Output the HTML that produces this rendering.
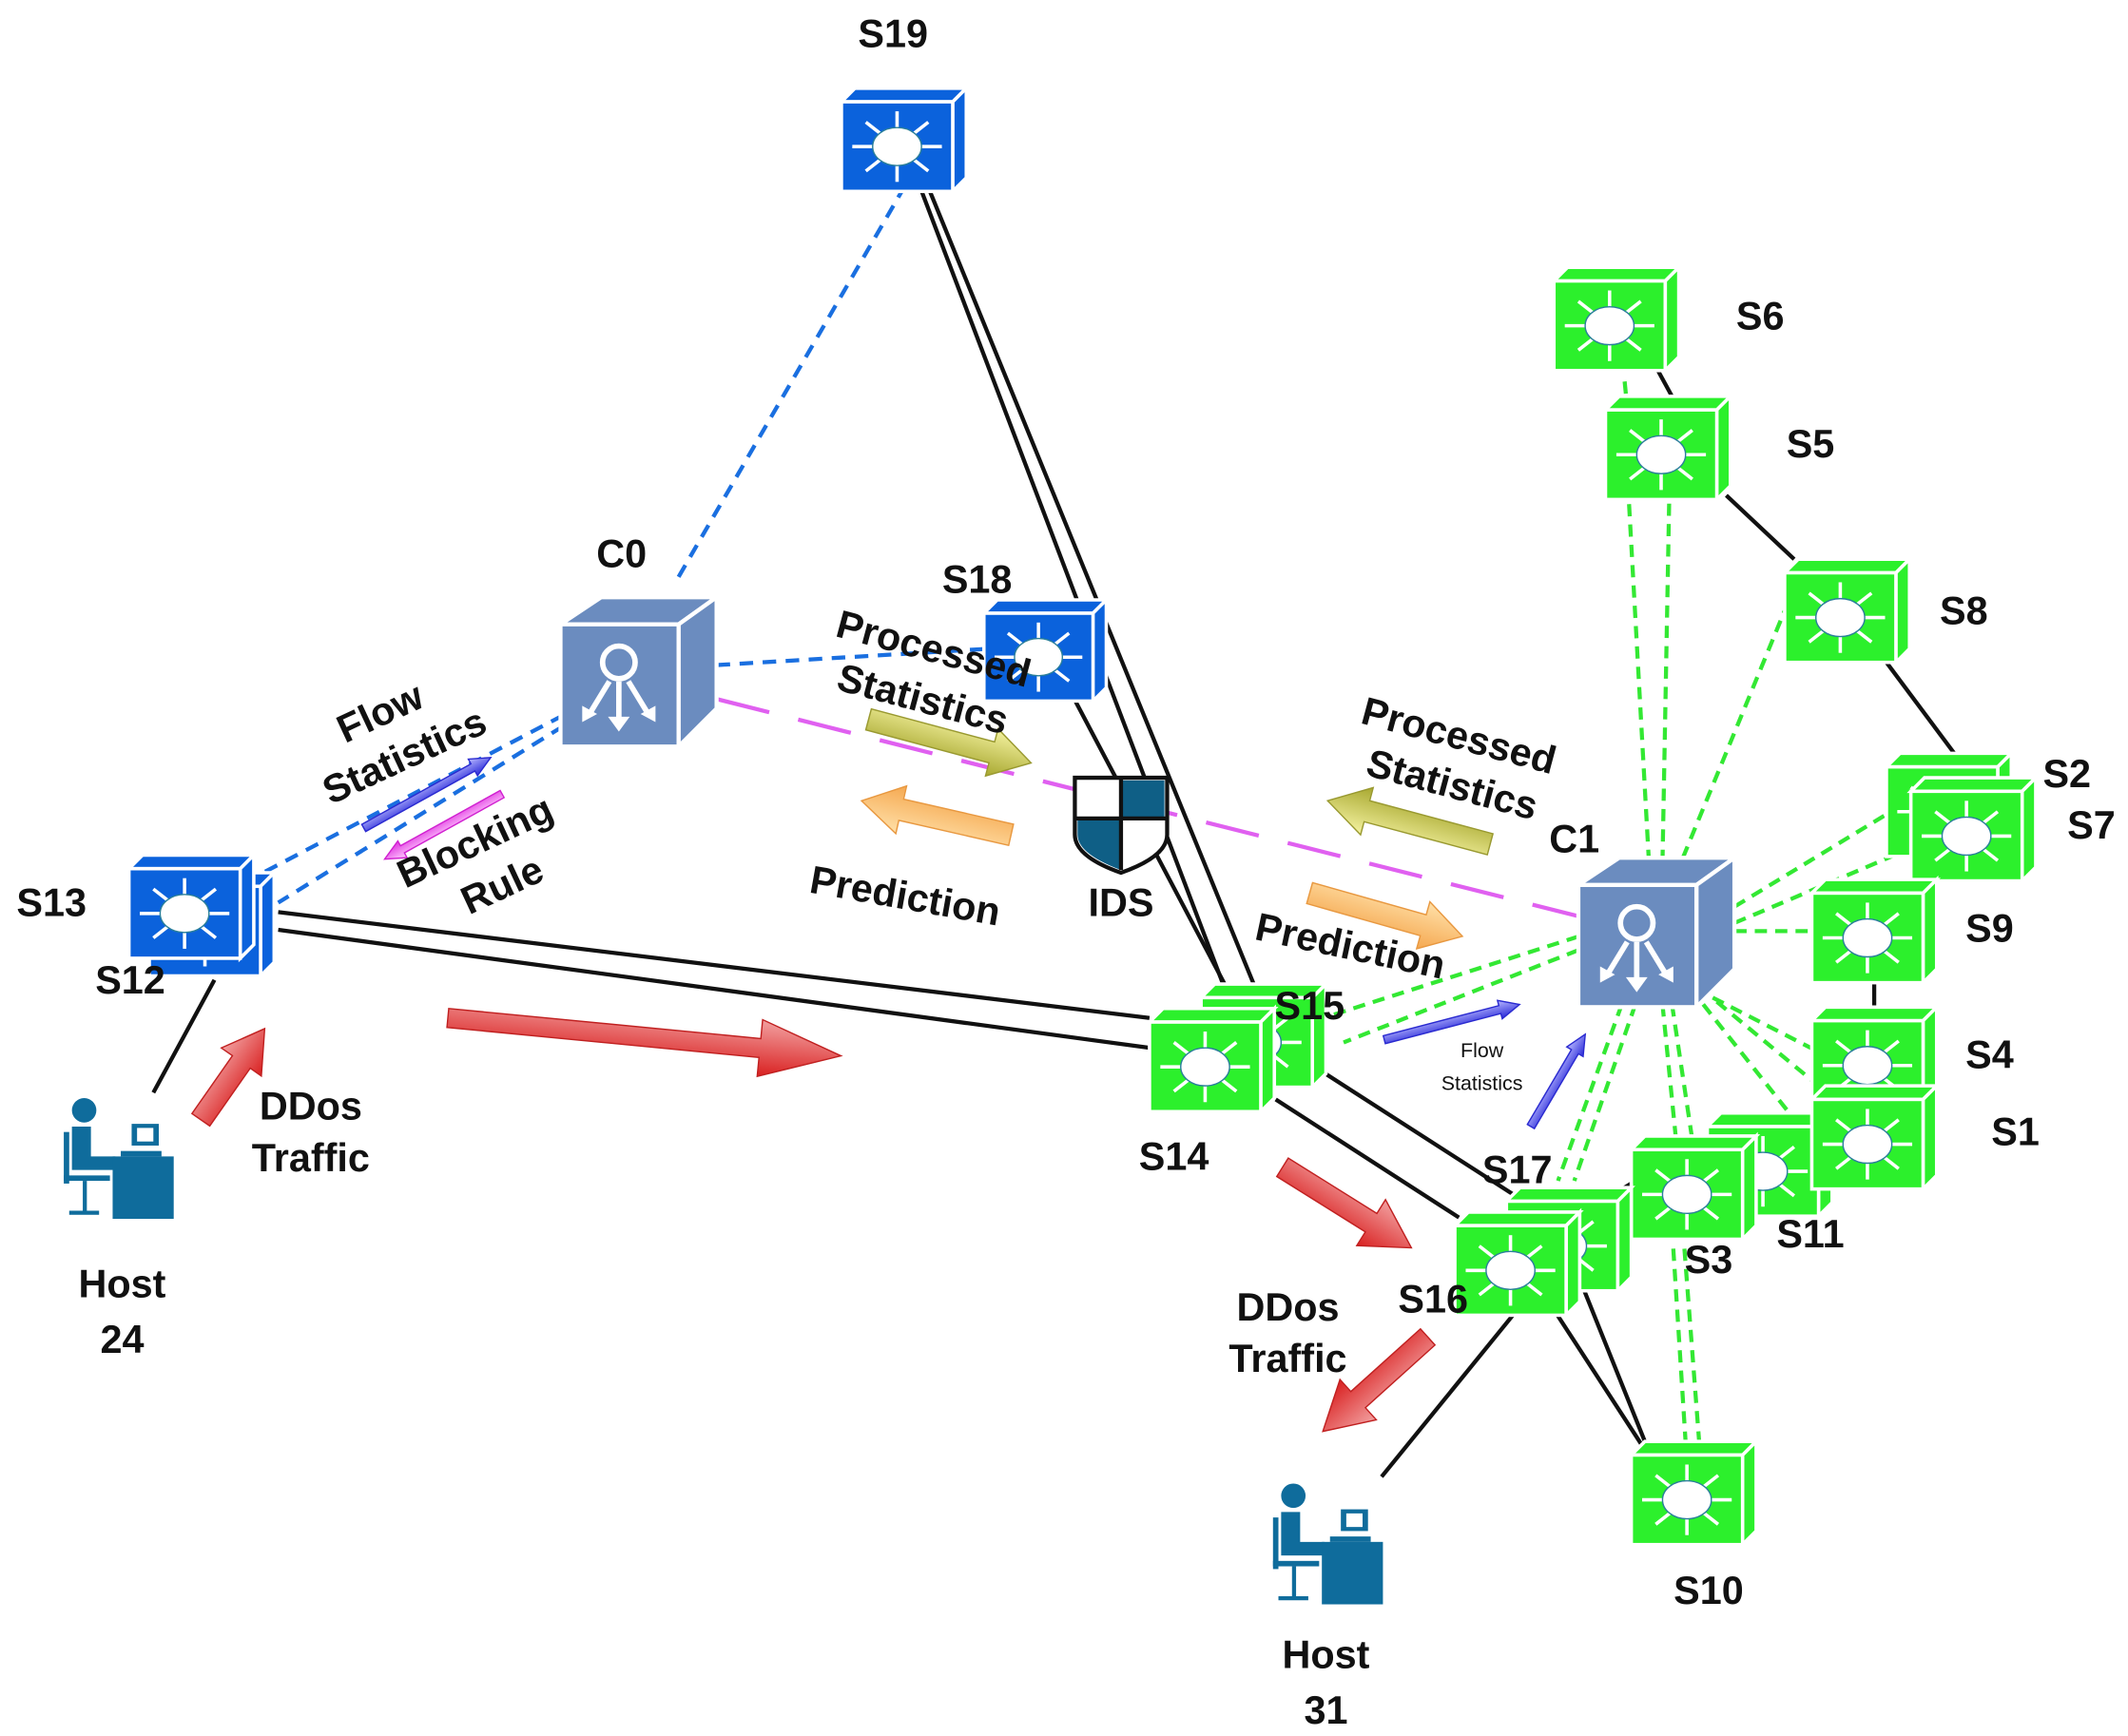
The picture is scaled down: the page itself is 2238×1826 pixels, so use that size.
<!DOCTYPE html>
<html><head><meta charset="utf-8"><style>
html,body{margin:0;padding:0;background:#fff;}
svg{display:block;}
text{font-family:"Liberation Sans",sans-serif;font-weight:bold;fill:#111;}
</style></head><body>
<svg width="2238" height="1826" viewBox="0 0 1568 1279" preserveAspectRatio="none" xmlns="http://www.w3.org/2000/svg">
<defs>
<g id="swb">
<polygon points="0,10 10,0 92,0 82,10" fill="#0b62dc" stroke="#fff" stroke-width="2.5"/>
<polygon points="82,10 92,0 92,66 82,76" fill="#0b62dc" stroke="#fff" stroke-width="2.5"/>
<rect x="0" y="10" width="82" height="66" fill="#0b62dc" stroke="#fff" stroke-width="2.5"/>
<g stroke="#fff" stroke-width="2.5" fill="#fff">
<line x1="41" y1="43" x2="41" y2="17"/><line x1="41" y1="43" x2="41" y2="69"/>
<line x1="41" y1="43" x2="8" y2="43"/><line x1="41" y1="43" x2="74" y2="43"/>
<line x1="41" y1="43" x2="18" y2="25"/><line x1="41" y1="43" x2="64" y2="25"/>
<line x1="41" y1="43" x2="18" y2="61"/><line x1="41" y1="43" x2="64" y2="61"/>
</g>
<ellipse cx="41" cy="43" rx="18" ry="14" fill="#fff" stroke="#2a7f9a" stroke-width="1"/>
</g>
<g id="swg">
<polygon points="0,10 10,0 92,0 82,10" fill="#2cf02c" stroke="#fff" stroke-width="2.5"/>
<polygon points="82,10 92,0 92,66 82,76" fill="#2cf02c" stroke="#fff" stroke-width="2.5"/>
<rect x="0" y="10" width="82" height="66" fill="#2cf02c" stroke="#fff" stroke-width="2.5"/>
<g stroke="#fff" stroke-width="2.5">
<line x1="41" y1="43" x2="41" y2="17"/><line x1="41" y1="43" x2="41" y2="69"/>
<line x1="41" y1="43" x2="8" y2="43"/><line x1="41" y1="43" x2="74" y2="43"/>
<line x1="41" y1="43" x2="18" y2="25"/><line x1="41" y1="43" x2="64" y2="25"/>
<line x1="41" y1="43" x2="18" y2="61"/><line x1="41" y1="43" x2="64" y2="61"/>
</g>
<ellipse cx="41" cy="43" rx="18" ry="14" fill="#fff" stroke="#2a7f9a" stroke-width="1"/>
</g>
<g id="ctl">
<polygon points="0,20 30,0 115,0 87,20" fill="#6b8cbf" stroke="#fff" stroke-width="3"/>
<polygon points="87,20 115,0 115,82 87,110" fill="#6b8cbf" stroke="#fff" stroke-width="3"/>
<rect x="0" y="20" width="87" height="90" fill="#6b8cbf" stroke="#fff" stroke-width="3"/>
<circle cx="43" cy="48" r="12" fill="none" stroke="#fff" stroke-width="4"/>
<g stroke="#fff" stroke-width="4"><line x1="43" y1="62" x2="43" y2="90"/><line x1="36" y1="62" x2="22" y2="85"/><line x1="50" y1="62" x2="64" y2="85"/></g>
<g fill="#fff"><polygon points="35,88 51,88 43,99"/><polygon points="16,80 27,86 16,92"/><polygon points="70,80 59,86 70,92"/></g>
</g>
<g id="host">
<circle cx="17" cy="12" r="9" fill="#0f6c9c"/>
<path d="M8,24 h14 v22 h18 v10 h-32 z" fill="#0f6c9c"/>
<rect x="2" y="28" width="4" height="38" fill="#0f6c9c"/>
<rect x="2" y="60" width="34" height="4" fill="#0f6c9c"/>
<rect x="16" y="64" width="3" height="24" fill="#0f6c9c"/>
<rect x="6" y="86" width="22" height="3" fill="#0f6c9c"/>
<rect x="52" y="22" width="20" height="16" fill="#0f6c9c"/>
<rect x="56" y="25" width="12" height="10" fill="#fff"/>
<rect x="38" y="46" width="45" height="46" fill="#0f6c9c"/>
<rect x="44" y="42" width="30" height="4" fill="#0f6c9c"/>
</g>
<linearGradient id="gr" x1="0" y1="0" x2="0" y2="1"><stop offset="0" stop-color="#f2a0a0"/><stop offset="1" stop-color="#d92020"/></linearGradient>
<linearGradient id="gy" x1="0" y1="0" x2="0" y2="1"><stop offset="0" stop-color="#f4f2a0"/><stop offset="1" stop-color="#a8a830"/></linearGradient>
<linearGradient id="go" x1="0" y1="0" x2="0" y2="1"><stop offset="0" stop-color="#ffe0a8"/><stop offset="1" stop-color="#f5a850"/></linearGradient>
<linearGradient id="gb" x1="0" y1="0" x2="0" y2="1"><stop offset="0" stop-color="#b8b8ff"/><stop offset="1" stop-color="#2a2ad8"/></linearGradient>
<linearGradient id="gp" x1="0" y1="0" x2="0" y2="1"><stop offset="0" stop-color="#ffd0ff"/><stop offset="1" stop-color="#e030e0"/></linearGradient>
</defs>

<!-- blue dashed -->
<g stroke="#1a6fe0" stroke-width="3" stroke-dasharray="10,7" fill="none">
<line x1="500" y1="425" x2="665" y2="140"/>
<line x1="528" y1="490" x2="728" y2="478"/>
<line x1="415" y1="527" x2="190" y2="645"/>
<line x1="415" y1="535" x2="205" y2="665"/>
</g>
<!-- pink dashed -->
<line x1="528" y1="515" x2="1163" y2="675" stroke="#e060f0" stroke-width="3" stroke-dasharray="40,22"/>
<!-- green dashed -->
<g stroke="#33e833" stroke-width="3" stroke-dasharray="9,6" fill="none">
<line x1="1215" y1="635" x2="1200" y2="365"/><line x1="1225" y1="635" x2="1230" y2="365"/>
<line x1="1198" y1="290" x2="1197" y2="280"/>
<line x1="1240" y1="632" x2="1315" y2="450"/>
<line x1="1278" y1="668" x2="1390" y2="600"/><line x1="1278" y1="680" x2="1408" y2="625"/>
<line x1="1278" y1="686" x2="1335" y2="686"/>
<line x1="1262" y1="735" x2="1340" y2="775"/><line x1="1255" y1="740" x2="1320" y2="822"/><line x1="1265" y1="738" x2="1340" y2="800"/>
<line x1="1225" y1="740" x2="1235" y2="840"/><line x1="1232" y1="740" x2="1247" y2="840"/>
<line x1="1232" y1="905" x2="1242" y2="1062"/><line x1="1240" y1="905" x2="1252" y2="1062"/>
<line x1="1195" y1="740" x2="1148" y2="870"/><line x1="1205" y1="740" x2="1160" y2="870"/>
<line x1="1163" y1="690" x2="975" y2="750"/><line x1="1163" y1="700" x2="990" y2="768"/>
</g>
<!-- black lines -->
<g stroke="#111" stroke-width="3" fill="none">
<line x1="678" y1="138" x2="905" y2="735"/><line x1="684" y1="138" x2="925" y2="728"/>
<line x1="790" y1="512" x2="905" y2="730"/>
<line x1="205" y1="672" x2="847" y2="750"/><line x1="205" y1="685" x2="847" y2="772"/>
<line x1="940" y1="810" x2="1075" y2="897"/><line x1="975" y1="790" x2="1115" y2="880"/>
<line x1="113" y1="805" x2="158" y2="722"/>
<line x1="1118" y1="965" x2="1018" y2="1088"/>
<line x1="1145" y1="965" x2="1210" y2="1065"/><line x1="1165" y1="945" x2="1212" y2="1062"/>
<line x1="1165" y1="895" x2="1205" y2="870"/>
<line x1="1220" y1="270" x2="1232" y2="292"/>
<line x1="1272" y1="365" x2="1322" y2="412"/>
<line x1="1390" y1="488" x2="1440" y2="555"/>
<line x1="1381" y1="720" x2="1381" y2="742"/>
</g>

<!-- switches -->
<use href="#swb" transform="translate(620,65)"/>
<use href="#swb" transform="translate(725,442) scale(0.98)"/>
<use href="#swb" transform="translate(110,643)"/>
<use href="#swb" transform="translate(95,630)"/>
<use href="#swg" transform="translate(1145,197)"/>
<use href="#swg" transform="translate(1183,292)"/>
<use href="#swg" transform="translate(1315,412)"/>
<use href="#swg" transform="translate(1390,555)"/>
<use href="#swg" transform="translate(1408,573)"/>
<use href="#swg" transform="translate(1335,648)"/>
<use href="#swg" transform="translate(1335,742)"/>
<use href="#swg" transform="translate(1258,820)"/>
<use href="#swg" transform="translate(1335,800)"/>
<use href="#swg" transform="translate(1202,837)"/>
<use href="#swg" transform="translate(1110,875)"/>
<use href="#swg" transform="translate(1072,893)"/>
<use href="#swg" transform="translate(885,725)"/>
<use href="#swg" transform="translate(847,743)"/>
<use href="#swg" transform="translate(1202,1062)"/>

<!-- controllers -->
<use href="#ctl" transform="translate(413,440)"/>
<use href="#ctl" transform="translate(1163,632)"/>
<!-- hosts -->
<use href="#host" transform="translate(45,806)"/>
<use href="#host" transform="translate(936,1090)"/>
<!-- IDS -->
<g transform="translate(792,573)">
<path d="M0,0 H68 V42 Q68,58 34,70 Q0,58 0,42 Z" fill="#fff" stroke="#111" stroke-width="3"/>
<path d="M34,2 H66 V30 H34 Z" fill="#0f5f86"/>
<path d="M2,30 H34 V68 Q2,56 2,42 Z" fill="#0f5f86"/>
<line x1="34" y1="0" x2="34" y2="68" stroke="#111" stroke-width="3"/>
<line x1="0" y1="30" x2="68" y2="30" stroke="#111" stroke-width="3"/>
</g>

<!-- block arrows -->
<g stroke-width="1">
<g transform="translate(330,750) rotate(5.5)"><polygon points="0,-7 231,-7 231,-21 291,0 231,21 231,7 0,7" fill="url(#gr)" stroke="#c02020"/></g>
<g transform="translate(148,825) rotate(-55)"><polygon points="0,-8 52,-8 52,-18 82,0 52,18 52,8 0,8" fill="url(#gr)" stroke="#c02020"/></g>
<g transform="translate(945,860) rotate(32)"><polygon points="0,-8 77,-8 77,-20 112,0 77,20 77,8 0,8" fill="url(#gr)" stroke="#c02020"/></g>
<g transform="translate(1052,985) rotate(138)"><polygon points="0,-8 69,-8 69,-20 104,0 69,20 69,8 0,8" fill="url(#gr)" stroke="#c02020"/></g>
<g transform="translate(640,530) rotate(15)"><polygon points="0,-8 94,-8 94,-18 124,0 94,18 94,8 0,8" fill="url(#gy)" stroke="#999930"/></g>
<g transform="translate(745,615) rotate(192.8)"><polygon points="0,-8 83,-8 83,-18 113,0 83,18 83,8 0,8" fill="url(#go)" stroke="#e89840"/></g>
<g transform="translate(1098,622) rotate(195)"><polygon points="0,-8 94,-8 94,-18 124,0 94,18 94,8 0,8" fill="url(#gy)" stroke="#999930"/></g>
<g transform="translate(965,658) rotate(15.8)"><polygon points="0,-8 87,-8 87,-18 117,0 87,18 87,8 0,8" fill="url(#go)" stroke="#e89840"/></g>
<g transform="translate(268,610) rotate(-29)"><polygon points="0,-3 92,-3 92,-7 107,0 92,7 92,3 0,3" fill="url(#gb)" stroke="#2a2ad0"/></g>
<g transform="translate(370,585) rotate(151)"><polygon points="0,-3 84,-3 84,-7 99,0 84,7 84,3 0,3" fill="url(#gp)" stroke="#d020d0"/></g>
<g transform="translate(1020,766) rotate(-14.6)"><polygon points="0,-3 88,-3 88,-7 103,0 88,7 88,3 0,3" fill="url(#gb)" stroke="#2a2ad0"/></g>
<g transform="translate(1128,830) rotate(-59.5)"><polygon points="0,-3 64,-3 64,-7 79,0 64,7 64,3 0,3" fill="url(#gb)" stroke="#2a2ad0"/></g>
</g>

<!-- labels -->
<g font-size="29" text-anchor="middle" dominant-baseline="central">
<text x="658" y="25">S19</text>
<text x="458" y="408">C0</text>
<text x="720" y="427">S18</text>
<text x="38" y="665">S13</text>
<text x="96" y="722">S12</text>
<text x="1297" y="233">S6</text>
<text x="1334" y="327">S5</text>
<text x="1447" y="450">S8</text>
<text x="1523" y="570">S2</text>
<text x="1541" y="608">S7</text>
<text x="1160" y="618">C1</text>
<text x="1466" y="684">S9</text>
<text x="1466" y="777">S4</text>
<text x="1485" y="834">S1</text>
<text x="1334" y="909">S11</text>
<text x="1259" y="928">S3</text>
<text x="1118" y="862">S17</text>
<text x="1056" y="957">S16</text>
<text x="965" y="741">S15</text>
<text x="865" y="852">S14</text>
<text x="1259" y="1172">S10</text>
<text x="826" y="665">IDS</text>
<text x="90" y="946">Host</text><text x="90" y="987">24</text>
<text x="977" y="1219">Host</text><text x="977" y="1260">31</text>
<text x="229" y="815">DDos</text><text x="229" y="853">Traffic</text>
<text x="949" y="963">DDos</text><text x="949" y="1001">Traffic</text>
<text x="280" y="525" transform="rotate(-25 280 525)">Flow</text>
<text x="298" y="557" transform="rotate(-25 298 557)">Statistics</text>
<text x="350" y="620" transform="rotate(-25 350 620)">Blocking</text>
<text x="370" y="652" transform="rotate(-25 370 652)">Rule</text>
<text x="688" y="478" transform="rotate(15 688 478)">Processed</text>
<text x="680" y="515" transform="rotate(15 680 515)">Statistics</text>
<text x="667" y="660" transform="rotate(10 667 660)">Prediction</text>
<text x="1075" y="542" transform="rotate(15 1075 542)">Processed</text>
<text x="1070" y="578" transform="rotate(15 1070 578)">Statistics</text>
<text x="995" y="697" transform="rotate(12 995 697)">Prediction</text>
</g>
<g font-size="15" text-anchor="middle" dominant-baseline="central">
<text x="1092" y="774" style="font-weight:normal">Flow</text>
<text x="1092" y="798" style="font-weight:normal">Statistics</text>
</g>
</svg>
</body></html>
